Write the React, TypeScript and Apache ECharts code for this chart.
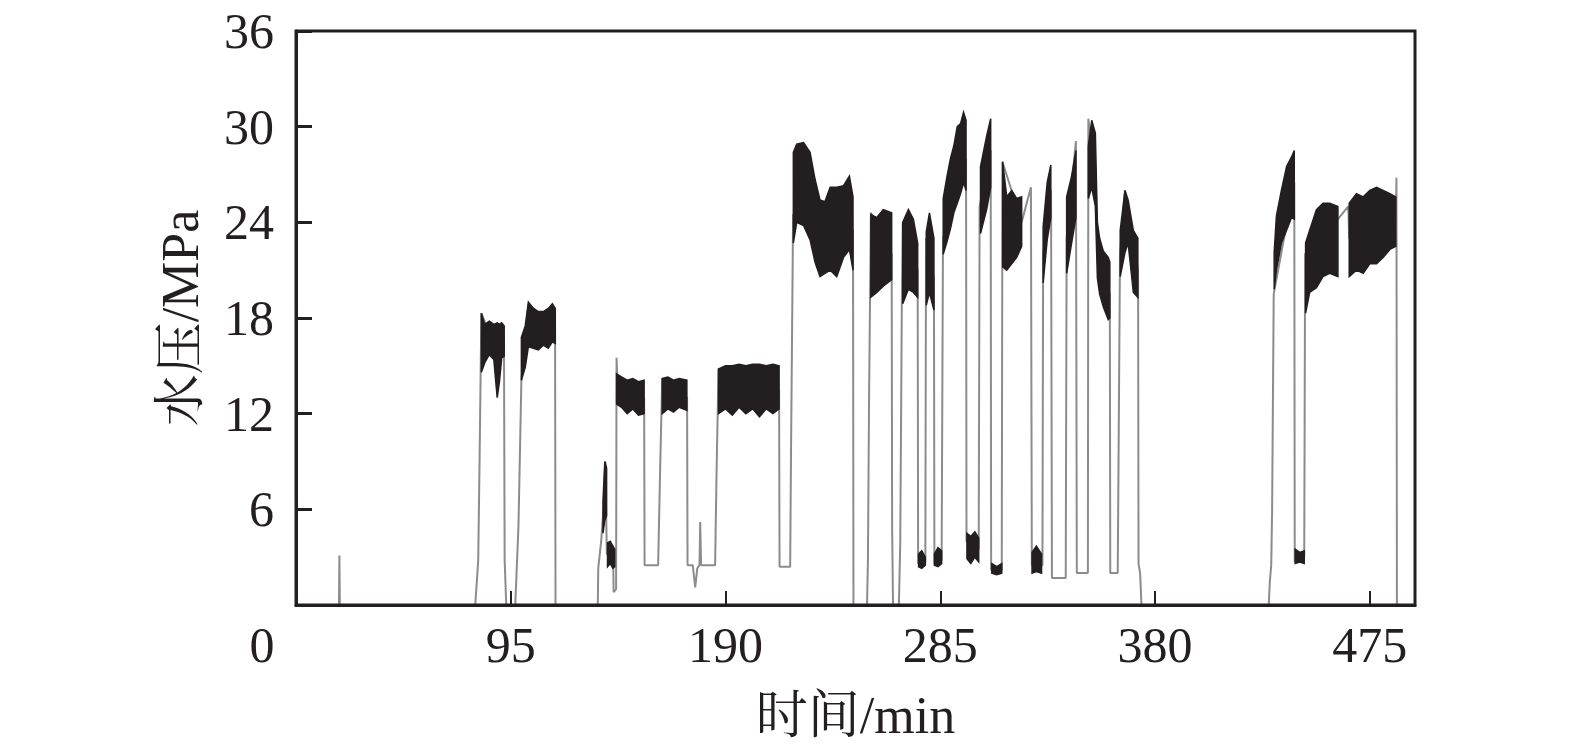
import React, { useEffect, useRef } from "react";
import * as echarts from "echarts";

// ---- axis settings (values) ----
const xTickStep = 95;
const xMax = 495;
const yTickStep = 6;
const yMax = 36;

// ---- gray pressure trace [time (min), pressure (MPa)] ----
const trace: number[][] = [
  [0, 0], [19.0, 0], [19.2, 3.1], [19.4, 0],
  [79.3, 0], [80.0, 1.5], [80.6, 2.8], [81.2, 9.0], [82.0, 18.3],
  [87.0, 16.5], [92.0, 16.5], [92.3, 2.8], [93.0, 0],
  [97.0, 0], [97.7, 2.5], [98.4, 4.9], [99.0, 9.1], [99.7, 14.1], [102.8, 18.9],
  [114.6, 17.4], [114.8, 0],
  [133.5, 0], [133.7, 2.3], [135.0, 4.0], [136.0, 6.0], [136.8, 9.0], [137.5, 3.2], [140.3, 3.0], [140.5, 0.8], [141.6, 1.0], [141.8, 15.5], [142.3, 13.5],
  [154.0, 13.0], [154.2, 2.5], [160.2, 2.5], [161.0, 8.0], [162.0, 14.2],
  [173.0, 13.0], [173.2, 2.5], [175.5, 2.5], [176.6, 1.1], [177.5, 2.3], [178.5, 2.5], [178.8, 5.2], [179.2, 2.5], [185.4, 2.5], [186.0, 8.0], [186.9, 14.8],
  [213.7, 13.5], [213.9, 2.4], [218.6, 2.4], [219.0, 10.0], [219.9, 24.5],
  [246.4, 23.5], [246.6, 0],
  [252.6, 0], [253.0, 2.8], [253.5, 13.0], [254.3, 24.6],
  [263.5, 22.0], [263.7, 4.9], [264.1, 0],
  [266.7, 0], [267.3, 4.0], [268.0, 19.0], [268.4, 24.0],
  [275.0, 21.0], [275.2, 2.6], [278.4, 2.7], [278.7, 23.0],
  [282.2, 20.5], [282.4, 2.6], [285.6, 2.8], [286.2, 23.0],
  [296.4, 28.0], [296.6, 4.0], [302.0, 3.5], [302.4, 25.0],
  [307.3, 28.5], [307.5, 2.2], [312.2, 2.2], [312.5, 27.8],
  [321.0, 24.0], [325.1, 26.2], [325.5, 2.5], [330.2, 2.5], [330.5, 22.0],
  [334.0, 26.0], [334.4, 1.7], [340.5, 1.7], [340.9, 23.0],
  [345.0, 29.1], [345.4, 2.0], [350.3, 2.0], [350.5, 30.5],
  [352.0, 28.5], [353.6, 27.5], [354.5, 22.0], [357.1, 20.5], [360.0, 19.5], [360.2, 2.0], [363.5, 2.0], [364.5, 22.0],
  [366.7, 26.0], [372.5, 21.0], [372.7, 2.6], [373.4, 2.0], [374.0, 0],
  [430.3, 0], [430.8, 1.5], [431.4, 2.5], [431.8, 6.0], [432.5, 19.5],
  [441.6, 26.5], [441.8, 2.7], [446.0, 3.0], [446.4, 22.0],
  [460.9, 24.2], [465.5, 25.0], [465.9, 23.0],
  [486.5, 24.0], [486.8, 26.8], [487.0, 0], [495, 0],
];

// ---- fluctuation bands [time, low, high] ----
const bandA = [[82.0, 14.6, 18.3], [83.5, 15.2, 17.6], [85.5, 15.7, 17.8], [87.5, 15.4, 17.6], [89.0, 13.0, 17.7], [90.0, 14.0, 17.6], [91.0, 15.5, 17.7], [92.1, 15.6, 17.5]];
const bandB = [[99.7, 14.1, 16.8], [101.4, 14.9, 17.5], [102.8, 16.2, 19.0], [105.0, 16.1, 18.6], [107.2, 16.0, 18.4], [109.4, 16.3, 18.4], [111.6, 16.1, 18.6], [113.4, 16.5, 18.9], [114.7, 16.4, 18.6]];
const bandC = [[135.8, 4.5, 6.5], [136.6, 5.3, 9.0], [137.4, 5.6, 8.6]];
const bandD = [[137.8, 2.4, 3.9], [139.0, 2.6, 4.0], [140.2, 2.3, 3.7], [141.0, 2.4, 3.5]];
const bandE = [[141.8, 12.6, 14.5], [144.0, 12.4, 14.3], [146.5, 12.0, 14.1], [149.0, 12.3, 14.2], [151.5, 11.9, 14.0], [154.0, 12.0, 14.1]];
const bandF = [[162.0, 12.0, 14.2], [164.5, 12.3, 14.3], [167.0, 12.1, 14.1], [169.5, 12.4, 14.2], [172.9, 12.2, 14.1]];
const bandG = [[186.9, 12.0, 14.8], [190.0, 12.3, 15.0], [193.0, 11.9, 15.0], [196.0, 12.4, 15.1], [199.0, 12.0, 15.0], [202.0, 12.3, 15.1], [205.0, 11.8, 15.1], [208.0, 12.3, 15.0], [211.0, 12.0, 15.1], [213.7, 12.3, 15.0]];
const bandH = [[220.0, 22.7, 28.4], [221.5, 24.0, 28.9], [224.5, 23.8, 29.0], [227.4, 22.9, 28.4], [229.6, 21.5, 26.7], [231.8, 20.6, 25.4], [234.0, 20.8, 25.3], [236.3, 21.0, 26.2], [239.2, 20.6, 26.2], [242.2, 21.8, 26.3], [244.8, 22.3, 26.9], [246.4, 21.0, 25.6]];
const bandI = [[254.3, 19.3, 24.5], [256.9, 19.6, 24.3], [259.8, 20.0, 24.8], [263.5, 20.4, 24.6]];
const bandJ = [[268.4, 18.9, 24.0], [270.9, 19.8, 24.8], [273.1, 19.6, 24.2], [275.0, 19.3, 22.7]];
const bandK = [[275.4, 2.4, 3.2], [276.8, 2.3, 3.4], [278.4, 2.5, 3.0]];
const bandL = [[278.8, 18.8, 23.4], [280.2, 19.6, 24.6], [282.2, 18.5, 23.0]];
const bandM = [[282.4, 2.5, 3.2], [284.0, 2.4, 3.6], [285.6, 2.6, 3.4]];
const bandN = [[286.3, 22.0, 25.5], [288.0, 22.8, 26.9], [289.5, 23.6, 28.0], [291.0, 24.6, 28.8], [292.5, 25.2, 30.0], [294.0, 25.8, 30.2], [295.3, 26.5, 30.9], [296.4, 26.0, 30.4]];
const bandO = [[296.8, 2.9, 4.5], [298.5, 2.6, 4.3], [300.3, 3.0, 4.6], [302.0, 2.7, 4.2]];
const bandP = [[302.8, 23.3, 27.5], [305.5, 24.8, 29.4], [307.3, 26.2, 30.5]];
const bandQ = [[307.8, 2.0, 2.6], [310.0, 1.9, 2.4], [312.2, 2.0, 2.6]];
const bandR = [[312.6, 21.2, 27.8], [314.4, 21.0, 25.6], [316.6, 21.4, 26.0], [318.8, 21.8, 25.5], [321.0, 22.5, 25.6]];
const bandS = [[325.6, 2.0, 3.3], [327.5, 2.1, 3.7], [329.8, 2.0, 3.2]];
const bandT = [[330.5, 20.2, 23.7], [332.3, 22.9, 26.5], [333.9, 24.3, 27.6]];
const bandU = [[340.9, 20.8, 25.6], [343.1, 22.7, 26.9], [345.0, 24.3, 28.5]];
const bandV = [[350.5, 25.5, 28.8], [352.0, 26.2, 30.4], [353.6, 25.0, 29.6], [354.5, 20.5, 24.0], [355.5, 19.5, 23.0], [357.1, 18.7, 22.2], [359.3, 17.9, 21.8], [360.0, 18.0, 21.5]];
const bandW = [[364.6, 20.6, 23.5], [366.7, 22.1, 26.0], [368.1, 22.7, 25.4], [370.4, 19.6, 23.5], [372.4, 19.3, 23.0]];
const bandX = [[432.7, 19.8, 22.1], [433.7, 21.0, 24.4], [435.9, 22.7, 26.0], [438.2, 23.5, 27.5], [440.4, 24.3, 28.1], [441.6, 24.2, 28.5]];
const bandY = [[442.0, 2.6, 3.5], [444.0, 2.7, 3.3], [446.0, 2.6, 3.4]];
const bandZ = [[446.6, 18.3, 22.7], [448.4, 19.6, 23.5], [451.4, 19.9, 24.8], [454.3, 20.6, 25.2], [457.3, 20.8, 25.2], [460.9, 20.6, 25.0]];
const bandAA = [[465.9, 20.6, 25.2], [469.1, 21.0, 25.8], [472.1, 20.8, 25.6], [475.0, 21.4, 26.0], [478.0, 21.4, 26.2], [480.9, 21.8, 26.0], [483.9, 22.3, 25.8], [486.5, 22.5, 25.6]];

const bands = [bandA, bandB, bandC, bandD, bandE, bandF, bandG, bandH, bandI, bandJ, bandK, bandL, bandM, bandN, bandO, bandP, bandQ, bandR, bandS, bandT, bandU, bandV, bandW, bandX, bandY, bandZ, bandAA];

const xName = "时间/min";
const yName = "水压/MPa";

const INK = "#231f20";
const FONT = "'Liberation Serif', 'Times New Roman', 'Noto Serif CJK SC', 'Noto Sans CJK SC', serif";

export default function App() {
  const ref = useRef<HTMLDivElement>(null);
  useEffect(() => {
    if (!ref.current) return;
    const chart = echarts.init(ref.current, null, { renderer: "svg" });
    chart.setOption({
      animation: false,
      backgroundColor: "#ffffff",
      grid: {
        left: 296, top: 31, right: 160, bottom: 146,
        show: true, borderColor: INK, borderWidth: 3, backgroundColor: "transparent", z: 10,
      },
      xAxis: {
        type: "value", min: 0, max: xMax, interval: xTickStep, z: 10,
        name: xName, nameLocation: "middle", nameGap: 84,
        nameTextStyle: { fontFamily: FONT, fontSize: 52, color: INK },
        axisLine: { show: true, lineStyle: { color: INK, width: 3 } },
        axisTick: { show: true, inside: true, length: 14, lineStyle: { color: INK, width: 2 } },
        splitLine: { show: false },
        axisLabel: {
          margin: 15, fontFamily: FONT, fontSize: 50, color: INK,
          formatter: (v: number) => (v === 0 ? "{z|0}" : v % xTickStep === 0 ? String(v) : ""),
          rich: { z: { fontFamily: FONT, fontSize: 50, color: INK, padding: [0, 68, 0, 0] } },
        },
      },
      yAxis: {
        type: "value", min: 0, max: yMax, interval: yTickStep, z: 10,
        name: yName, nameLocation: "middle", nameGap: 90,
        nameTextStyle: { fontFamily: FONT, fontSize: 52, color: INK },
        axisLine: { show: true, lineStyle: { color: INK, width: 3 } },
        axisTick: { show: true, inside: true, length: 16, lineStyle: { color: INK, width: 3 } },
        splitLine: { show: false },
        axisLabel: {
          margin: 22, fontFamily: FONT, fontSize: 50, color: INK,
          formatter: (v: number) => (v === 0 ? "" : String(v)),
        },
      },
      series: [
        {
          type: "line", data: trace, showSymbol: false, symbol: "none", z: 2,
          lineStyle: { color: "#8c8c8c", width: 2 },
        },
        {
          type: "custom", z: 3,
          data: bands.map((b) => [b[0][0], b[0][2]]),
          renderItem: (params: any, api: any) => {
            const b = bands[params.dataIndex];
            const upper = b.map((p) => api.coord([p[0], p[2]]));
            const lower = b.slice().reverse().map((p) => api.coord([p[0], p[1]]));
            return {
              type: "polygon",
              shape: { points: upper.concat(lower) },
              style: { fill: INK, stroke: INK, lineWidth: 1.5 },
            };
          },
        },
      ],
    });
    return () => chart.dispose();
  }, []);
  return <div ref={ref} style={{ position: "absolute", left: 0, top: 0, width: 1575, height: 751 }} />;
}
